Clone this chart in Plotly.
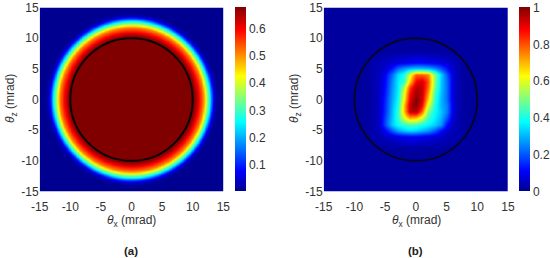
import numpy as np
import plotly.graph_objects as go

W, H = 550, 258

ticks = [-15, -10, -5, 0, 5, 10, 15]
tick_labels = ["-15", "-10", "-5", "0", "5", "10", "15"]
cbar_a_ticks = [0.1, 0.2, 0.3, 0.4, 0.5, 0.6]
cbar_b_ticks = [0, 0.2, 0.4, 0.6, 0.8, 1]
circle_radius = 10
jet = [[0, "#00008f"], [0.11, "#0000ff"], [0.125, "#0010ff"], [0.375, "#00ffff"], [0.5, "#80ff80"],
       [0.625, "#ffff00"], [0.75, "#ff8000"], [0.875, "#ff0000"], [1, "#800000"]]

# Panel (a): rotationally symmetric, so one radial profile
a_radius = [9.75, 10, 10.25, 10.5, 10.75, 11, 11.25, 11.5, 11.75, 12, 12.25, 12.5, 12.75,
            13, 13.25, 13.5, 13.75, 14, 14.25]
a_value = [.68, .68, .675, .655, .625, .595, .565, .535, .505, .445, .38, .315, .255,
           .175, .095, .05, .02, .006, .001]
a_axis = np.linspace(-15, 15, 301)
a_xx, a_yy = np.meshgrid(a_axis, a_axis)
a_z = np.interp(np.hypot(a_xx, a_yy), a_radius, a_value)

# Panel (b): values read on a 1 mrad grid, top row z = 7 down to z = -7, columns x = -7..7
b_background = 0.015
b_block = [
    [.02, .03, .03, .04, .05, .05, .06, .06, .06, .05, .05, .04, .04, .03, .02],
    [.03, .04, .05, .06, .08, .09, .10, .11, .11, .10, .09, .08, .06, .05, .03],
    [.03, .04, .06, .13, .22, .27, .30, .32, .32, .30, .26, .20, .12, .05, .03],
    [.03, .05, .10, .22, .34, .40, .60, .78, .78, .75, .50, .33, .20, .07, .03],
    [.03, .05, .11, .25, .36, .42, .68, .88, .92, .80, .50, .32, .22, .07, .03],
    [.03, .05, .12, .26, .36, .55, .82, .95, .93, .78, .48, .32, .22, .07, .03],
    [.03, .05, .13, .27, .37, .60, .87, .97, .93, .73, .44, .31, .22, .07, .03],
    [.03, .05, .14, .28, .38, .63, .90, 1.0, .92, .68, .42, .30, .22, .07, .03],
    [.03, .05, .15, .29, .40, .68, .94, 1.0, .88, .60, .40, .30, .24, .08, .03],
    [.03, .05, .15, .30, .42, .68, .92, .95, .78, .50, .38, .32, .24, .08, .03],
    [.03, .05, .17, .31, .42, .60, .72, .70, .60, .44, .36, .30, .20, .06, .03],
    [.03, .05, .18, .32, .39, .42, .45, .44, .40, .37, .33, .27, .12, .05, .03],
    [.03, .04, .10, .20, .28, .32, .34, .33, .30, .27, .20, .12, .06, .04, .03],
    [.03, .03, .05, .06, .08, .09, .10, .10, .09, .08, .07, .05, .04, .03, .03],
    [.02, .03, .03, .04, .05, .05, .06, .06, .05, .05, .04, .04, .03, .03, .02],
]
b_axis = list(range(-15, 16))
b_z = [[b_background] * 31 for _ in range(31)]
for i, row in enumerate(b_block):
    # row i is z = 7 - i ; grid row index counts up from z = -15
    b_z[22 - i][8:23] = row

font = "Liberation Sans, Arial, sans-serif"
ink = "#333333"
fs = 12
top, bottom = 7.5, 191.5
dom_y = [1 - bottom / H, 1 - top / H]
dom_a = [39.7 / W, 223.3 / W]
dom_b = [323.7 / W, 508 / W]


def cbar(x0, tickvals):
    return dict(x=x0 / W, xanchor="left", xref="paper", thickness=10.5, thicknessmode="pixels",
                y=dom_y[0], yanchor="bottom", yref="paper", len=dom_y[1] - dom_y[0], lenmode="fraction",
                tickvals=tickvals, ticks="", outlinewidth=0, xpad=0, ypad=0,
                tickfont=dict(family=font, size=fs, color=ink))


fig = go.Figure()
fig.add_trace(go.Heatmap(x=a_axis, y=a_axis, z=a_z, zmin=0, zmax=0.68, colorscale=jet, zsmooth="best",
                         colorbar=cbar(234.7, cbar_a_ticks), xaxis="x", yaxis="y"))
fig.add_trace(go.Heatmap(x=b_axis, y=b_axis, z=b_z, zmin=0, zmax=1, colorscale=jet, zsmooth="best",
                         colorbar=cbar(519.3, cbar_b_ticks), xaxis="x2", yaxis="y2"))

axis_common = dict(range=[-15, 15], tickvals=ticks, ticktext=tick_labels, ticks="", showgrid=False,
                   zeroline=False, showline=False, automargin=False,
                   tickfont=dict(family=font, size=fs, color=ink))


def label(text, x, y, angle=0, size=fs, color=ink):
    return dict(text=text, x=x / W, y=1 - y / H, xref="paper", yref="paper", showarrow=False, textangle=angle,
                xanchor="center", yanchor="middle", font=dict(family=font, size=size, color=color))


x_text = "<i>θ</i><sub>x</sub> (mrad)"
z_text = "<i>θ</i><sub>z</sub> (mrad)"
fig.update_layout(
    width=W, height=H, autosize=False, margin=dict(l=0, r=0, t=0, b=0, pad=0, autoexpand=False),
    paper_bgcolor="white", plot_bgcolor="white", showlegend=False,
    xaxis=dict(domain=dom_a, anchor="y", ticklabelstandoff=6, **axis_common),
    yaxis=dict(domain=dom_y, anchor="x", **axis_common),
    xaxis2=dict(domain=dom_b, anchor="y2", ticklabelstandoff=6, **axis_common),
    yaxis2=dict(domain=dom_y, anchor="x2", **axis_common),
    shapes=[
        dict(type="circle", xref="x", yref="y", x0=-circle_radius, x1=circle_radius,
             y0=-circle_radius, y1=circle_radius, line=dict(color="#0a0505", width=2)),
        dict(type="circle", xref="x2", yref="y2", x0=-circle_radius, x1=circle_radius,
             y0=-circle_radius, y1=circle_radius, line=dict(color="#05052a", width=2)),
    ],
    annotations=[
        label(x_text, 131, 221),
        label(x_text, 416, 221),
        label(z_text, 11, 99, angle=-90),
        label(z_text, 295, 99, angle=-90),
        label("<b>(a)</b>", 131, 251, size=11.5, color="#222222"),
        label("<b>(b)</b>", 415, 251, size=11.5, color="#222222"),
    ],
)
fig.write_html("out.html", config=dict(displayModeBar=False),
               post_script="document.body.style.margin='0';document.documentElement.style.overflow='hidden';")
